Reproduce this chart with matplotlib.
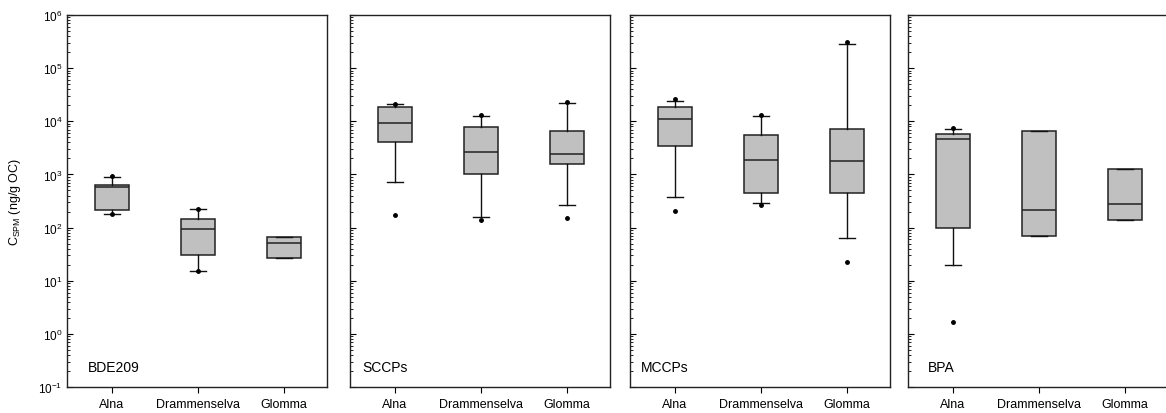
import matplotlib
matplotlib.use('Agg')
import matplotlib.pyplot as plt
from matplotlib.ticker import LogLocator, NullFormatter

plt.rcParams['font.family'] = ['Liberation Sans', 'DejaVu Sans']

sites = ['Alna', 'Drammenselva', 'Glomma']
compounds = ['BDE209', 'SCCPs', 'MCCPs', 'BPA']

# box stats (ng/g OC): whislo, q1, median, q3, whishi
bde209_stats = [
    (180, 217, 587, 641, 906),
    (15.5, 30.5, 94, 145, 223),
    (26.4, 26.4, 50.5, 67, 67),
]
sccp_stats = [
    (711, 4020, 9400, 18800, 20800),
    (156, 1005, 2640, 7900, 12600),
    (262, 1590, 2390, 6650, 22100),
]
mccp_stats = [
    (381, 3430, 10900, 18800, 24400),
    (290, 447, 1890, 5600, 12800),
    (63.7, 447, 1810, 7160, 288000),
]
bpa_stats = [
    (19.7, 98, 4650, 5850, 7160),
    (70.3, 70.3, 211, 6470, 6470),
    (137, 137, 277, 1280, 1280),
]

# dots (outliers / extremes)
bde209_dots = [[930, 182], [223, 15.2], []]
sccp_dots = [[21600, 172], [13000, 139], [23000, 154]]
mccp_dots = [[26600, 205], [13000, 269], [315000, 22.2]]
bpa_dots = [[7400, 1.67], [], []]

all_stats = [bde209_stats, sccp_stats, mccp_stats, bpa_stats]
all_dots = [bde209_dots, sccp_dots, mccp_dots, bpa_dots]

W, H = 1166, 414
fig = plt.figure(figsize=(W / 100, H / 100), dpi=100)

lefts = [67, 350, 630, 908]
width = 260
label_x = [21, 12, 11, 20]

for i in range(4):
    ax = fig.add_axes([lefts[i] / W, 1 - 388 / H, width / W, 372 / H])
    stats = []
    for j, s in enumerate(all_stats[i]):
        stats.append(dict(whislo=s[0], q1=s[1], med=s[2], q3=s[3], whishi=s[4],
                          fliers=all_dots[i][j]))
    ax.bxp(stats, positions=[1, 2, 3], widths=0.4, patch_artist=True,
           boxprops=dict(facecolor='#c0c0c0', edgecolor='#222222', linewidth=1.1),
           medianprops=dict(color='#222222', linewidth=1.1),
           whiskerprops=dict(color='#111111', linewidth=1.0),
           capprops=dict(color='#111111', linewidth=1.0),
           capwidths=0.18,
           flierprops=dict(marker='o', markersize=2.5, markerfacecolor='black',
                           markeredgecolor='black', linestyle='none'))
    ax.set_yscale('log')
    ax.set_ylim(0.1, 1e6)
    ax.set_xlim(0.48, 3.5)
    ax.set_xticks([1, 2, 3])
    ax.set_xticklabels(sites, fontsize=9)
    ax.tick_params(axis='x', direction='out', length=4, width=0.8, pad=4)
    ax.yaxis.set_major_locator(LogLocator(base=10, numticks=20))
    ax.yaxis.set_minor_locator(LogLocator(base=10, subs=range(2, 10), numticks=20))
    ax.yaxis.set_minor_formatter(NullFormatter())
    ax.tick_params(axis='y', which='major', direction='in', length=4, width=0.8, labelsize=8.5)
    ax.tick_params(axis='y', which='minor', direction='in', length=2, width=0.6)
    if i > 0:
        ax.set_yticklabels([])
    else:
        ax.set_ylabel('C$_{\\mathregular{SPM}}$ (ng/g OC)', fontsize=9, labelpad=11)
    for sp in ax.spines.values():
        sp.set_linewidth(1.0)
        sp.set_color('#222222')
    if i == 3:
        ax.spines['right'].set_visible(False)
    ax.text(label_x[i] / width, 0.055, compounds[i], transform=ax.transAxes,
            fontsize=10, ha='left', va='center')

fig.savefig('out.png', dpi=100)
